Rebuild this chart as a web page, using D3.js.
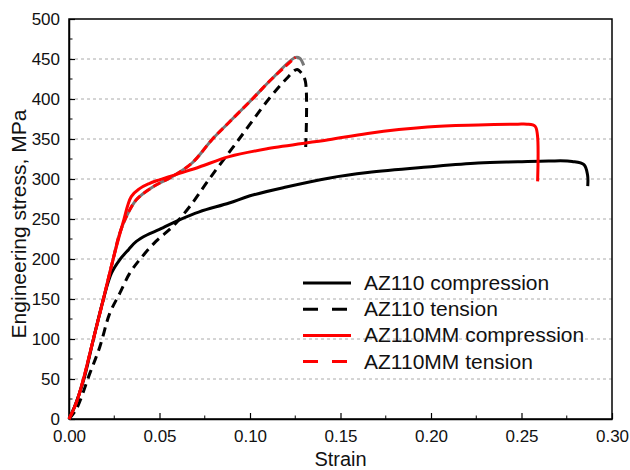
<!DOCTYPE html>
<html lang="en">
<head>
  <meta charset="UTF-8">
  <title>Stress-strain curves - D3</title>
  <script src="https://d3js.org/d3.v7.min.js"></script>
  <style>
    body {
      margin: 0;
      background-color: #fff;
      font-family: Arial, "Liberation Sans", sans-serif;
    }

    .axis text {
      font-size: 17px;
      fill: #111;
    }

    .grid line {
      stroke: #aaa;
      stroke-width: 1;
      stroke-dasharray: 3, 3;
    }

    .curve {
      fill: none;
      stroke-width: 3;
    }

    .legend text {
      font-size: 21px;
      fill: #111;
    }

    .title {
      font-size: 20px;
      fill: #111;
      text-anchor: middle;
    }
  </style>
</head>
<body>
  <script>
    // AZ110 compression
    var az110CompStrain = [0, 0.003, 0.008, 0.0134, 0.0189, 0.0234, 0.028, 0.033, 0.0372, 0.043, 0.05, 0.061, 0.072, 0.0885, 0.1, 0.12, 0.1434, 0.165, 0.198, 0.226, 0.248, 0.265, 0.278, 0.2845, 0.2865, 0.2866];
    var az110CompStress = [0, 15, 48, 99, 149, 182, 199, 212, 222, 230, 237, 249, 259, 270, 279, 290, 301, 308, 315, 320, 321.5, 322.5, 322, 318, 305, 291];

    // AZ110 tension
    var az110TensStrain = [0, 0.004, 0.0115, 0.017, 0.0225, 0.028, 0.0335, 0.039, 0.048, 0.057, 0.0665, 0.0775, 0.094, 0.1104, 0.12, 0.126, 0.1285, 0.1306, 0.1307];
    var az110TensStress = [0, 12, 57, 90, 132, 157, 182, 199, 222, 240, 265, 300, 350, 400, 425, 437, 432, 422, 336];

    // AZ110MM compression
    var mmCompStrain = [0, 0.004, 0.008, 0.0124, 0.0189, 0.0243, 0.0298, 0.0344, 0.039, 0.044, 0.05, 0.061, 0.072, 0.0885, 0.11, 0.1434, 0.165, 0.198, 0.226, 0.248, 0.253, 0.2575, 0.2588, 0.2589];
    var mmCompStress = [0, 20, 50, 90, 149, 199, 245, 278, 288, 294, 299, 307, 315, 328, 338, 349, 357, 365, 367.5, 368.5, 368.5, 366, 355, 297];

    // AZ110MM tension (last three points: thin end hook)
    var mmTensStrain = [0, 0.004, 0.008, 0.0124, 0.0189, 0.0243, 0.028, 0.0317, 0.0372, 0.0463, 0.057, 0.068, 0.0793, 0.0885, 0.1013, 0.112, 0.1251];
    var mmTensStress = [0, 20, 50, 90, 149, 199, 232, 253, 274, 290, 303, 320, 350, 371, 400, 425, 452];
    var mmHookStrain = [0.1251, 0.1275, 0.1297];
    var mmHookStress = [452, 451, 442];

    var xTicks = [0, 0.05, 0.10, 0.15, 0.20, 0.25, 0.30];
    var yTicks = [0, 50, 100, 150, 200, 250, 300, 350, 400, 450, 500];
    var legendNames = ["AZ110 compression", "AZ110 tension", "AZ110MM compression", "AZ110MM tension"];

    var zip = (xs, ys) => xs.map((v, i) => [v, ys[i]]);

    var series = [
      { name: legendNames[0], pts: zip(az110CompStrain, az110CompStress), color: "#000", dash: null },
      { name: legendNames[1], pts: zip(az110TensStrain, az110TensStress), color: "#000", dash: "9,6" },
      { name: legendNames[2], pts: zip(mmCompStrain, mmCompStress), color: "#ff0000", dash: null },
      { name: legendNames[3], pts: zip(mmTensStrain, mmTensStress), color: "#ff0000", dash: "8,4" }
    ];

    var margin = { top: 19, right: 18, bottom: 51, left: 69 },
        width = 630 - margin.left - margin.right,
        height = 470 - margin.top - margin.bottom;

    var x = d3.scaleLinear().domain([0, 0.30]).range([0, width]);
    var y = d3.scaleLinear().domain([0, 500]).range([height, 0]);

    var svg = d3.select("body")
                .append("svg")
                .attr("width", 630)
                .attr("height", 470)
                .append("g")
                .attr("transform", `translate(${margin.left},${margin.top})`);

    // Grille pointillée
    svg.append("g")
       .attr("class", "grid")
       .selectAll("line")
       .data(yTicks.filter(d => d > 0 && d < 500))
       .enter()
       .append("line")
       .attr("x1", 0)
       .attr("x2", width)
       .attr("y1", d => y(d))
       .attr("y2", d => y(d));

    // Axe X (ticks vers l'intérieur)
    var xAxis = svg.append("g")
       .attr("class", "axis")
       .attr("transform", `translate(0,${height})`)
       .call(d3.axisBottom(x).tickValues(xTicks).tickFormat(d3.format(".2f")).tickSizeInner(-6).tickSizeOuter(0).tickPadding(11));
    xAxis.append("g")
       .selectAll("line")
       .data(d3.range(0.025, 0.3, 0.05))
       .enter()
       .append("line")
       .attr("x1", d => x(d))
       .attr("x2", d => x(d))
       .attr("y1", 0)
       .attr("y2", -3.5)
       .attr("stroke", "#000");

    // Axe Y
    var yAxis = svg.append("g")
       .attr("class", "axis")
       .call(d3.axisLeft(y).tickValues(yTicks).tickSizeInner(-6).tickSizeOuter(0).tickPadding(9));
    yAxis.append("g")
       .selectAll("line")
       .data(d3.range(25, 500, 50))
       .enter()
       .append("line")
       .attr("x1", 0)
       .attr("x2", 3.5)
       .attr("y1", d => y(d))
       .attr("y2", d => y(d))
       .attr("stroke", "#000");

    svg.selectAll(".axis path").attr("stroke", "#000").attr("stroke-width", 1.5);
    svg.selectAll(".axis .tick line").attr("stroke", "#000").attr("stroke-width", 1.2);

    // Cadre
    svg.append("rect")
       .attr("x", 0)
       .attr("y", 0)
       .attr("width", width)
       .attr("height", height)
       .attr("fill", "none")
       .attr("stroke", "#000")
       .attr("stroke-width", 1.5);

    var line = d3.line()
       .x(d => x(d[0]))
       .y(d => y(d[1]))
       .curve(d3.curveCatmullRom.alpha(0.5));

    // trait fin gris sous la courbe rouge en tension
    svg.append("path")
       .datum(series[3].pts.concat(zip(mmHookStrain, mmHookStress).slice(1)))
       .attr("class", "curve")
       .attr("stroke", "#777")
       .attr("stroke-width", 0.8)
       .attr("d", line);

    svg.selectAll(".series")
       .data(series)
       .enter()
       .append("path")
       .attr("class", "curve series")
       .attr("stroke", d => d.color)
       .attr("stroke-dasharray", d => d.dash)
       .attr("d", d => line(d.pts));

    // Légende
    var legend = svg.append("g")
       .attr("class", "legend")
       .attr("transform", "translate(234,264)");
    var rows = legend.selectAll("g")
       .data(series)
       .enter()
       .append("g")
       .attr("transform", (d, i) => `translate(0,${i * 26.2})`);
    rows.append("line")
       .attr("x1", 0)
       .attr("x2", 48)
       .attr("stroke", d => d.color)
       .attr("stroke-width", 3)
       .attr("stroke-dasharray", d => d.dash ? "15,14" : null);
    rows.append("text")
       .attr("x", 61)
       .attr("y", 7)
       .text(d => d.name);

    // Titres des axes
    svg.append("text")
       .attr("class", "title")
       .attr("x", width / 2)
       .attr("y", height + 47)
       .text("Strain");

    svg.append("text")
       .attr("class", "title")
       .style("font-size", "21px")
       .attr("transform", `translate(${26 - margin.left},${224 - margin.top}) rotate(-90)`)
       .text("Engineering stress, MPa");
  </script>
</body>
</html>
